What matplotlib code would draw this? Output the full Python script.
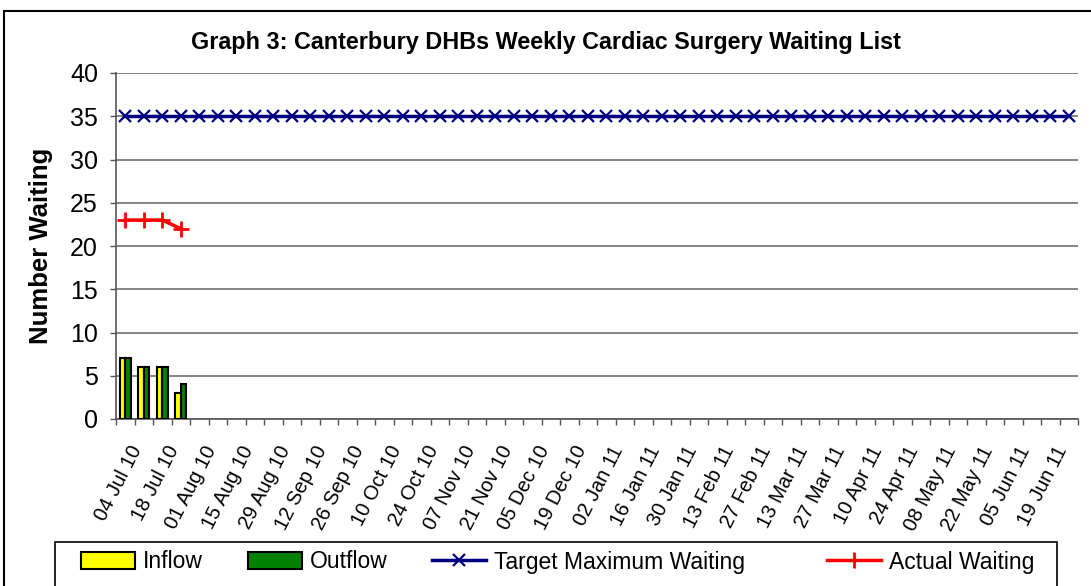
import matplotlib
matplotlib.use("Agg")
import matplotlib.pyplot as plt
import numpy as np
import pandas as pd
from matplotlib.patches import Rectangle, Patch
from matplotlib.lines import Line2D

plt.rcParams['font.family'] = ['Liberation Sans', 'DejaVu Sans']

# weekly categories, 04 Jul 2010 .. 26 Jun 2011
weeks = pd.date_range("2010-07-04", "2011-06-26", freq="7D")
week_labels = [d.strftime("%d %b %y") for d in weeks]

inflow = [7, 6, 6, 3]
outflow = [7, 6, 6, 4]
actual_waiting = [23, 23, 23, 22]
target_max = [35] * len(weeks)

fig = plt.figure(figsize=(10.91, 5.86), dpi=100)
ax = fig.add_axes([116 / 1091, 1 - 419 / 586, (1078 - 116) / 1091, (419 - 73) / 586])

x = np.arange(len(weeks))
bw = 0.3
ax.bar(x[:len(inflow)] - bw / 2, inflow, bw, color="#ffff00", edgecolor="black", linewidth=1.5, zorder=3)
ax.bar(x[:len(outflow)] + bw / 2, outflow, bw, color="#008000", edgecolor="black", linewidth=1.5, zorder=3)
ax.plot(x, target_max, color="#000080", lw=2.5, marker="x", ms=9, mew=1.6, zorder=4)
ax.plot(x[:len(actual_waiting)], actual_waiting, color="#ff0000", lw=2.5, marker="+", ms=12, mew=2, zorder=4)

ax.set_xlim(-0.5, len(weeks) - 0.5)
ax.set_ylim(0, 40)
ax.set_yticks(np.arange(0, 41, 5))
ax.yaxis.grid(True, color="#707070", lw=1.2)
ax.set_axisbelow(True)
ax.tick_params(axis="y", labelsize=18, length=4.5, color="#555555", width=1, pad=8.5)

# labels every second week, tick marks on the category boundaries
ax.set_xticks(x[::2] + 0.2)
ax.set_xticklabels(week_labels[::2], rotation=63, ha="right", rotation_mode="anchor", fontsize=14.5)
ax.tick_params(axis="x", which="major", length=0, pad=17)
ax.set_xticks(np.arange(-0.5, len(weeks)), minor=True)
ax.tick_params(axis="x", which="minor", length=4.5, color="#555555", width=1)

for s in ["top", "right"]:
    ax.spines[s].set_visible(False)
for s in ["left", "bottom"]:
    ax.spines[s].set_color("#555555")
    ax.spines[s].set_linewidth(1.2)

ax.set_ylabel("Number Waiting", fontsize=18.5, fontweight="bold", labelpad=12)
fig.text(546 / 1091, 1 - 42 / 586, "Graph 3: Canterbury DHBs Weekly Cardiac Surgery Waiting List",
         ha="center", va="center", fontsize=16.8, fontweight="bold")

# chart border and legend frame
fig.patches.append(Rectangle((4 / 1091, -0.2), 1.2, 1.2 - 11 / 586, transform=fig.transFigure,
                             fill=False, edgecolor="black", lw=1.5))
fig.patches.append(Rectangle((55 / 1091, -0.2), (1057 - 55) / 1091, 0.2 + 1 - 542 / 586,
                             transform=fig.transFigure, fill=False, edgecolor="black", lw=1.2))

handles = [
    Patch(facecolor="#ffff00", edgecolor="black", lw=1.5),
    Patch(facecolor="#008000", edgecolor="black", lw=1.5),
    Line2D([], [], color="#000080", lw=2.5, marker="x", ms=9, mew=1.6),
    Line2D([], [], color="#ff0000", lw=2.5, marker="+", ms=12, mew=2),
]
names = ["Inflow", "Outflow", "Target Maximum Waiting", "Actual Waiting"]
entry_x = [81, 248, 432, 827]
for h, name, ex in zip(handles, names, entry_x):
    fig.legend([h], [name], loc="center left", bbox_to_anchor=(ex / 1091, 1 - 562 / 586),
               frameon=False, fontsize=16.5, handlelength=2.35, handletextpad=0.35,
               handleheight=0.7, borderpad=0, borderaxespad=0)

fig.savefig("out.png", dpi=100)
